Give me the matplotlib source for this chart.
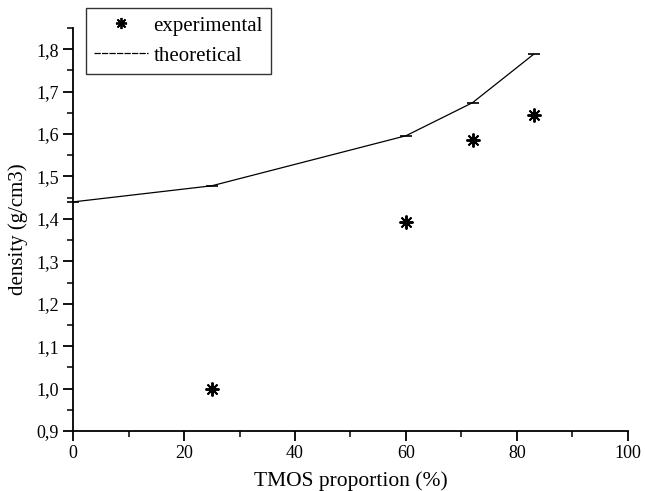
import matplotlib
matplotlib.use("Agg")
import matplotlib.pyplot as plt
from matplotlib.ticker import MultipleLocator, FuncFormatter
from matplotlib.lines import Line2D

exp_x = [25, 60, 72, 83]
exp_y = [1.00, 1.393, 1.586, 1.646]
theo_x = [0, 25, 60, 72, 83]
theo_y = [1.440, 1.478, 1.596, 1.674, 1.788]

plt.rcParams['font.family'] = ['Liberation Serif', 'DejaVu Serif']

fig = plt.figure(figsize=(6.45, 4.91), dpi=100)
ax = fig.add_axes([0.1132, 0.1222, 0.8604, 0.8208])

ax.plot(theo_x, theo_y, color='black', lw=0.9, marker='_', ms=9, mew=1.2,
        clip_on=False, zorder=3)
ax.plot(exp_x, exp_y, linestyle='none', color='black', marker=(8, 2, 0),
        ms=10, mew=1.4, clip_on=False, zorder=4)

ax.set_xlim(0, 100)
ax.set_ylim(0.9, 1.85)
ax.spines['top'].set_visible(False)
ax.spines['right'].set_visible(False)
ax.spines['left'].set_linewidth(1.3)
ax.spines['bottom'].set_linewidth(1.3)

ax.xaxis.set_major_locator(MultipleLocator(20))
ax.xaxis.set_minor_locator(MultipleLocator(10))
ax.yaxis.set_major_locator(MultipleLocator(0.1))
ax.yaxis.set_minor_locator(MultipleLocator(0.05))
ax.yaxis.set_major_formatter(FuncFormatter(lambda v, p: f"{v:.1f}".replace('.', ',')))
ax.tick_params(which='major', direction='out', length=7, width=1.3, labelsize=13)
ax.tick_params(which='minor', direction='out', length=4, width=1.1)
ax.tick_params(axis='x', pad=3)
ax.tick_params(axis='y', pad=3)

ax.set_xlabel('TMOS proportion (%)', fontsize=15.5, labelpad=7)
ax.set_ylabel('density (g/cm3)', fontsize=15, labelpad=6)

handles = [
    Line2D([], [], linestyle='none', color='black', marker=(8, 2, 0), ms=8, mew=1.3),
    Line2D([], [], color='black', lw=0.9, linestyle=(0, (5, 1))),
]
leg = ax.legend(handles, ['experimental', 'theoretical'], loc='upper left',
                bbox_to_anchor=(0.023, 1.05), borderaxespad=0, fontsize=15,
                frameon=True, fancybox=False, edgecolor='black', borderpad=0.4,
                handlelength=2.6, labelspacing=0.5, handletextpad=0.25)
leg.get_frame().set_linewidth(1.0)

fig.savefig('out.png', dpi=100)
